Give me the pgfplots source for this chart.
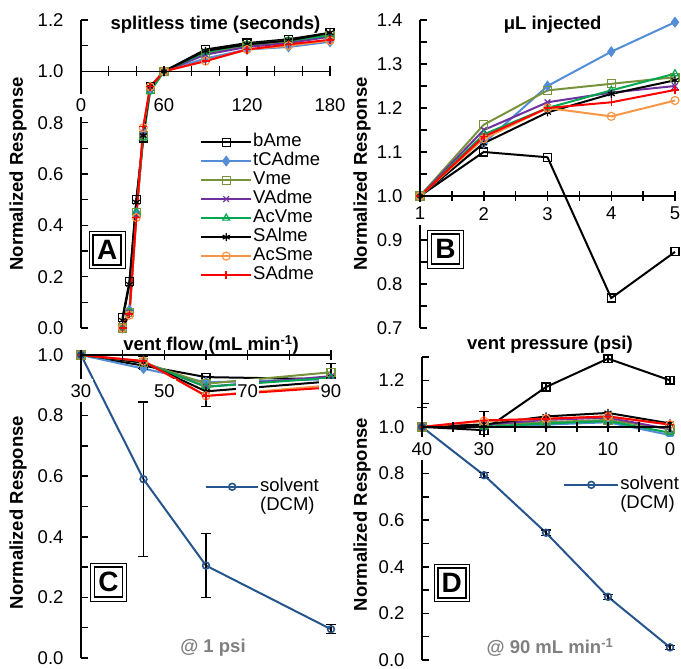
\documentclass[border=0pt]{standalone}
\usepackage{fontspec}
\setmainfont{Liberation Sans}
\usepackage{pgfplots}
\pgfplotsset{compat=1.18}
\usepackage{pgfplotstable}

\definecolor{cBlue}{RGB}{83,141,213}
\definecolor{cOlive}{RGB}{119,147,60}
\definecolor{cPurple}{RGB}{112,48,160}
\definecolor{cGreen}{RGB}{0,166,80}
\definecolor{cOrange}{RGB}{247,150,70}
\definecolor{cNavy}{RGB}{38,84,140}
\definecolor{cGray}{RGB}{128,128,128}

\newcommand\fs{\fontsize{18.5}{21}\selectfont}

% panel A: splitless time
\pgfplotstableread{
x   bAme  tCAdme Vme   VAdme AcVme SAlme AcSme SAdme
30  0.04  0.00   0.00  0.00  0.00  0.03  0.00  0.00
35  0.18  0.07   0.06  0.06  0.06  0.17  0.05  0.055
40  0.50  0.45   0.45  0.44  0.45  0.49  0.43  0.43
45  0.74  0.76   0.75  0.76  0.74  0.75  0.78  0.785
50  0.94  0.93   0.93  0.93  0.92  0.94  0.94  0.94
60  1.00  1.00   1.00  1.00  1.00  1.00  1.00  1.00
90  1.085 1.05   1.07  1.065 1.075 1.08  1.04  1.04
120 1.11  1.085  1.10  1.095 1.105 1.105 1.085 1.085
150 1.125 1.095  1.115 1.11  1.12  1.12  1.10  1.105
180 1.15  1.115  1.14  1.135 1.14  1.15  1.12  1.123
}\tabA

% panel B: injection volume
\pgfplotstableread{
x bAme  tCAdme Vme   VAdme AcVme SAlme AcSme SAdme
1 1.00  1.00   1.00  1.00  1.00  1.00  1.00  1.00
2 1.10  1.12   1.162 1.15  1.14  1.12  1.13  1.135
3 1.088 1.25   1.24  1.213 1.20  1.19  1.20  1.20
4 0.768 1.328  1.255 1.235 1.24  1.232 1.181 1.213
5 0.873 1.395  1.27  1.25  1.278 1.263 1.217 1.241
}\tabB

% panel C: vent flow
\pgfplotstableread{
x  bAme  tCAdme Vme   VAdme AcVme SAlme eSA  AcSme SAdme solv  eSolv
30 1.00  1.00   1.00  1.00  1.00  1.00  0.0  1.00  1.00  1.00  0.0
45 0.965 0.955  0.975 0.975 0.975 0.975 0.02 0.98  0.98  0.59  0.255
60 0.927 0.91   0.905 0.895 0.895 0.88  0.05 0.865 0.865 0.305 0.105
90 0.92  0.92   0.943 0.93  0.925 0.913 0.06 0.90  0.893 0.095 0.015
}\tabC

% panel D: vent pressure
\pgfplotstableread{
x  bAme  eBa   tCAdme Vme   VAdme AcVme SAlme AcSme SAdme solv  eSolv
40 1.00  0.085 1.00   1.00  1.00  1.00  1.00  1.00  1.00  1.00  0.0
30 0.986 0.08  1.00   1.01  1.01  1.00  1.01  1.025 1.028 0.793 0.01
20 1.171 0.015 1.01   1.02  1.03  1.015 1.045 1.035 1.035 0.546 0.012
10 1.293 0.015 1.02   1.03  1.04  1.025 1.06  1.045 1.045 0.271 0.01
0  1.20  0.015 0.965  0.99  0.99  0.975 1.015 1.01  1.01  0.054 0.008
}\tabD

\tikzset{
  ttl/.style={font=\fs\bfseries},
  lbox/.style={draw, line width=1.6pt, font=\fontsize{28}{28}\selectfont\bfseries, inner sep=0pt, minimum width=28pt, minimum height=30pt},
  obox/.style={draw, line width=0.8pt},
}

\pgfplotsset{
  mk/.style={mark options={solid, line width=1.2pt, fill=white}},
  sBa/.style={black, mark=square, mk},
  sTc/.style={cBlue, mark=diamond*, mark options={solid, fill=cBlue, line width=1pt, scale=1.2}},
  sVm/.style={cOlive, mark=square, mk},
  sVA/.style={cPurple, mark=x, mk},
  sAV/.style={cGreen, mark=triangle, mk},
  sSA/.style={black, mark=asterisk, mk},
  sAS/.style={cOrange, mark=o, mk},
  sSAd/.style={red, mark=+, mark options={solid, line width=1.5pt}},
  sSol/.style={cNavy, mark=o, mark options={solid, line width=1.6pt, fill=white, scale=0.85}},
  panel/.style={
    scale only axis, clip=false,
    axis x line=none, axis y line=left,
    axis line style={line width=1.5pt, -},
    tick style={line width=1.5pt, black},
    major tick length=7pt, minor tick length=7pt, tick align=inside,
    ticklabel style={font=\fs},
    /pgf/number format/assume math mode=true,
    yticklabel style={/pgf/number format/.cd, fixed, fixed zerofill, precision=1, /tikz/.cd, xshift=-14pt},
    ylabel={Normalized Response},
    ylabel style={font=\fs\bfseries, anchor=center},
    every axis plot/.append style={line width=2pt, mark size=4pt},
    legend cell align=left,
    legend style={draw=none, fill=none, font=\fs, inner sep=0pt, row sep=0pt,
      nodes={text height=13pt, text depth=4pt, inner sep=1pt}},
  },
  xline/.style={
    scale only axis, clip=false,
    axis y line=none, axis x line=middle,
    axis line style={line width=1.5pt, -},
    every inner x axis line/.append style={-},
    tick style={line width=1.5pt, black},
    major tick length=10pt, minor tick length=10pt, tick align=center,
    ytick=\empty,
    /pgf/number format/assume math mode=true,
    xticklabel style={font=\fs, fill=white, inner xsep=1.5pt, inner ysep=5pt},
  },
}

\begin{document}
\begin{tikzpicture}
\useasboundingbox (0,0) rectangle (681pt,669pt);

% ---------- A ----------
\begin{axis}[panel, at={(81pt,341pt)}, anchor=south west, width=249pt, height=308pt,
  xmin=0, xmax=180, ymin=0, ymax=1.2,
  ytick={0,0.2,0.4,0.6,0.8,1.0,1.2}, minor y tick num=1,
  ylabel style={at={(axis description cs:-0.253,0.5)}},
  legend style={at={(axis description cs:0.478,0.635)}, anchor=north west},
  legend image code/.code={\draw[mark repeat=2, mark phase=2, #1] plot coordinates {(0pt,0pt) (25pt,0pt) (50pt,0pt)};},
]
\addplot[sBa] table[y=bAme]{\tabA}; \addlegendentry{bAme}
\addplot[sTc] table[y=tCAdme]{\tabA}; \addlegendentry{tCAdme}
\addplot[sVm] table[y=Vme]{\tabA}; \addlegendentry{Vme}
\addplot[sVA] table[y=VAdme]{\tabA}; \addlegendentry{VAdme}
\addplot[sAV] table[y=AcVme]{\tabA}; \addlegendentry{AcVme}
\addplot[sSA] table[y=SAlme]{\tabA}; \addlegendentry{SAlme}
\addplot[sAS] table[y=AcSme]{\tabA}; \addlegendentry{AcSme}
\addplot[sSAd] table[y=SAdme]{\tabA}; \addlegendentry{SAdme}
\node[ttl] at (axis description cs:0.54,0.985) {splitless time (seconds)};
\node[lbox] (bA) at (axis description cs:0.105,0.253) {A};
\draw[obox] ([shift={(-3pt,-3pt)}]bA.south west) rectangle ([shift={(3pt,3pt)}]bA.north east);
\end{axis}
\begin{axis}[xline, at={(81pt,341pt)}, anchor=south west, width=249pt, height=308pt,
  xmin=0, xmax=180, ymin=-1, ymax=0.2,
  xtick={0,60,120,180}, minor x tick num=2,
  xticklabel style={yshift=-17pt},
]
\end{axis}

% ---------- B ----------
\begin{axis}[panel, at={(420pt,341pt)}, anchor=south west, width=255pt, height=308pt,
  xmin=1, xmax=5, ymin=0.7, ymax=1.4,
  ytick={0.7,0.8,0.9,1.0,1.1,1.2,1.3,1.4}, minor y tick num=1,
  ylabel style={at={(axis description cs:-0.227,0.5)}},
]
\addplot[sBa] table[y=bAme]{\tabB};
\addplot[sTc] table[y=tCAdme]{\tabB};
\addplot[sVm] table[y=Vme]{\tabB};
\addplot[sVA] table[y=VAdme]{\tabB};
\addplot[sAV] table[y=AcVme]{\tabB};
\addplot[sSA] table[y=SAlme]{\tabB};
\addplot[sAS] table[y=AcSme]{\tabB};
\addplot[sSAd] table[y=SAdme]{\tabB};
\node[ttl] at (axis description cs:0.52,0.985) {μL injected};
\node[lbox] (bB) at (axis description cs:0.10,0.256) {B};
\draw[obox] ([shift={(-3pt,-3pt)}]bB.south west) rectangle ([shift={(3pt,3pt)}]bB.north east);
\end{axis}
\begin{axis}[xline, at={(420pt,341pt)}, anchor=south west, width=255pt, height=308pt,
  xmin=1, xmax=5, ymin=-0.3, ymax=0.4,
  xtick={1,2,3,4,5}, minor x tick num=1,
  xticklabel style={yshift=-1pt},
]
\end{axis}

% ---------- C ----------
\begin{axis}[panel, at={(81pt,11pt)}, anchor=south west, width=250pt, height=303pt,
  xmin=30, xmax=90, ymin=0, ymax=1.0,
  ytick={0,0.2,0.4,0.6,0.8,1.0}, minor y tick num=1,
  ylabel style={at={(axis description cs:-0.252,0.48)}},
  legend style={at={(axis description cs:0.496,0.597)}, anchor=north west},
  legend image code/.code={\draw[mark repeat=2, mark phase=2, #1] plot coordinates {(0pt,0pt) (26pt,0pt) (52pt,0pt)};},
  error bars/error bar style={black, line width=1.2pt},
  error bars/error mark options={rotate=90, black, mark size=5pt, line width=1.2pt},
]
\addplot[sBa, forget plot] table[y=bAme]{\tabC};
\addplot[sTc, forget plot] table[y=tCAdme]{\tabC};
\addplot[sVm, forget plot] table[y=Vme]{\tabC};
\addplot[sVA, forget plot] table[y=VAdme]{\tabC};
\addplot[sAV, forget plot] table[y=AcVme]{\tabC};
\addplot[sSA, forget plot, error bars/.cd, y dir=both, y explicit] table[y=SAlme, y error=eSA]{\tabC};
\addplot[sAS, forget plot] table[y=AcSme]{\tabC};
\addplot[sSAd, forget plot] table[y=SAdme]{\tabC};
\addplot[sSol, error bars/.cd, y dir=both, y explicit] table[y=solv, y error=eSolv]{\tabC};
\addlegendentry{solvent}
\addlegendimage{empty legend}
\addlegendentry{(DCM)}
\node[ttl] at (axis description cs:0.52,1.033) {vent flow (mL min\textsuperscript{-1})};
\node[lbox] (bC) at (axis description cs:0.11,0.25) {C};
\draw[obox] ([shift={(-3pt,-3pt)}]bC.south west) rectangle ([shift={(3pt,3pt)}]bC.north east);
\node[ttl, text=cGray] at (axis description cs:0.528,0.035) {@ 1 psi};
\end{axis}
\begin{axis}[xline, at={(81pt,11pt)}, anchor=south west, width=250pt, height=303pt,
  xmin=30, xmax=90, ymin=-1, ymax=0,
  xtick={30,50,70,90}, minor x tick num=1,
  xticklabel style={yshift=-19pt},
]
\end{axis}

% ---------- D ----------
\begin{axis}[panel, at={(422pt,9pt)}, anchor=south west, width=248pt, height=303pt,
  x dir=reverse, xmin=0, xmax=40, ymin=0, ymax=1.3,
  ytick={0,0.2,0.4,0.6,0.8,1.0,1.2}, minor ytick={0.1,0.3,0.5,0.7,0.9,1.1,1.3},
  ylabel style={at={(axis description cs:-0.242,0.48)}},
  legend style={at={(axis description cs:0.569,0.61)}, anchor=north west},
  legend image code/.code={\draw[mark repeat=2, mark phase=2, #1] plot coordinates {(0pt,0pt) (27pt,0pt) (54pt,0pt)};},
  error bars/error bar style={black, line width=1.2pt},
  error bars/error mark options={rotate=90, black, mark size=5pt, line width=1.2pt},
]
\addplot[sBa, forget plot, error bars/.cd, y dir=both, y explicit] table[y=bAme, y error=eBa]{\tabD};
\addplot[sTc, forget plot] table[y=tCAdme]{\tabD};
\addplot[sVm, forget plot] table[y=Vme]{\tabD};
\addplot[sVA, forget plot] table[y=VAdme]{\tabD};
\addplot[sAV, forget plot] table[y=AcVme]{\tabD};
\addplot[sSA, forget plot] table[y=SAlme]{\tabD};
\addplot[sAS, forget plot] table[y=AcSme]{\tabD};
\addplot[sSAd, forget plot] table[y=SAdme]{\tabD};
\addplot[sSol, error bars/.cd, y dir=both, y explicit] table[y=solv, y error=eSolv]{\tabD};
\addlegendentry{solvent}
\addlegendimage{empty legend}
\addlegendentry{(DCM)}
\node[ttl] at (axis description cs:0.516,1.04) {vent pressure (psi)};
\node[lbox] (bD) at (axis description cs:0.12,0.254) {D};
\draw[obox] ([shift={(-3pt,-3pt)}]bD.south west) rectangle ([shift={(3pt,3pt)}]bD.north east);
\node[ttl, text=cGray] at (axis description cs:0.516,0.042) {@ 90 mL min\textsuperscript{-1}};
\end{axis}
\begin{axis}[xline, at={(422pt,9pt)}, anchor=south west, width=248pt, height=303pt,
  x dir=reverse, xmin=0, xmax=40, ymin=-1, ymax=0.3,
  xtick={0,10,20,30,40}, minor x tick num=1,
  xticklabel style={yshift=-5pt},
]
\end{axis}
\end{tikzpicture}
\end{document}
